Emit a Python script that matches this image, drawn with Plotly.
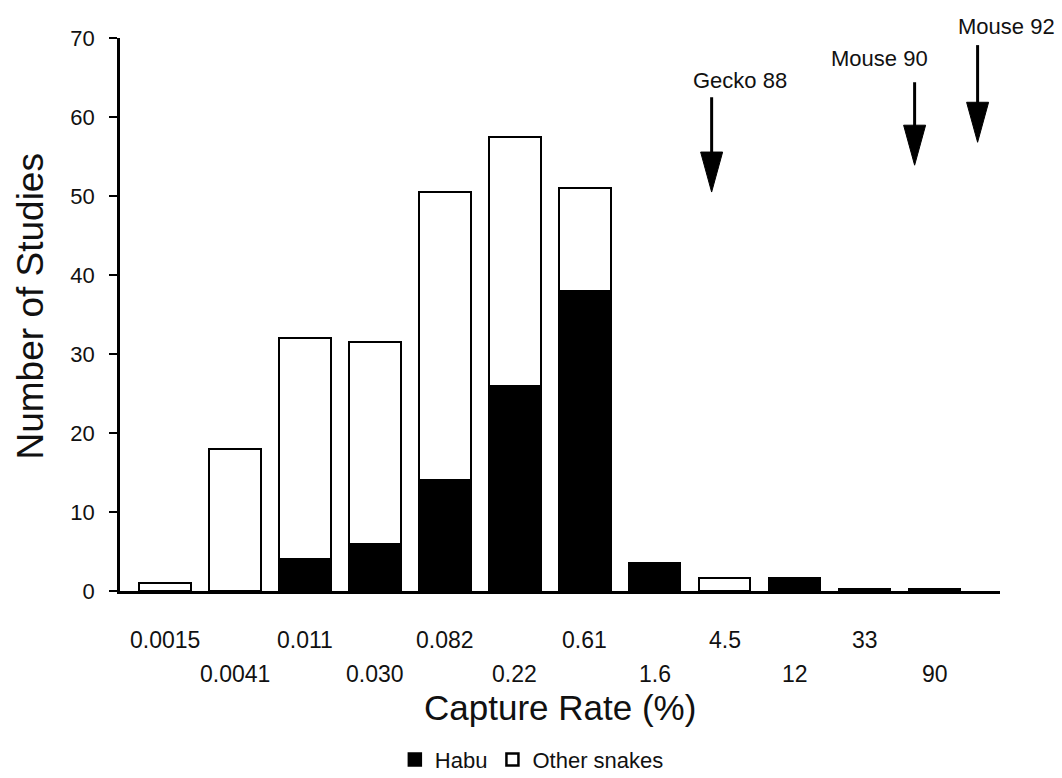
import plotly.graph_objects as go

# ---- data ----
categories = ["0.0015", "0.0041", "0.011", "0.030", "0.082", "0.22",
              "0.61", "1.6", "4.5", "12", "33", "90"]
habu = [0, 0, 4, 6, 14, 26, 38, 3.5, 0, 1.7, 0.3, 0.3]
other_snakes = [1, 18, 28, 25.5, 36.5, 31.5, 13, 0, 1.7, 0, 0, 0]
y_ticks = [0, 10, 20, 30, 40, 50, 60, 70]

arrow_labels = ["Gecko 88", "Mouse 90", "Mouse 92"]
arrow_x = [7.81, 10.71, 11.61]
arrow_tail_y = [62.5, 64.4, 69.1]
arrow_tip_y = [50.5, 53.9, 56.8]
label_dx = [28, -35, 29]     # pixel offset of label from arrow tail
label_dy = [17, 24, 19]

FONT = "Liberation Sans, Arial, Helvetica, sans-serif"
INK = "#111111"

xs = list(range(len(categories)))

fig = go.Figure()
fig.add_trace(go.Bar(
    x=xs, y=habu, name="Habu", width=0.73,
    marker=dict(color="black", line=dict(color="black", width=2.5)),
))
fig.add_trace(go.Bar(
    x=xs, y=other_snakes, name="Other snakes", width=0.73,
    marker=dict(color="white", line=dict(color="black", width=2.5)),
))

annotations = []
# staggered category labels
for i, lab in enumerate(categories):
    annotations.append(dict(
        x=i, y=0, xref="x", yref="y", text=lab, showarrow=False,
        xanchor="center", yanchor="middle",
        yshift=-49 if i % 2 == 0 else -83,
        font=dict(family=FONT, size=23, color=INK),
    ))
# axis titles
annotations.append(dict(
    x=0.5, y=0, xref="paper", yref="paper", text="Capture Rate (%)",
    showarrow=False, xanchor="center", yanchor="middle", yshift=-116,
    font=dict(family=FONT, size=35, color=INK),
))
annotations.append(dict(
    x=0, y=0.5, xref="paper", yref="paper", text="Number of Studies",
    showarrow=False, xanchor="center", yanchor="middle", xshift=-90,
    yshift=8, textangle=-90,
    font=dict(family=FONT, size=37, color=INK),
))
# arrow labels
for lab, ax_, ty, dx, dy in zip(arrow_labels, arrow_x, arrow_tail_y, label_dx, label_dy):
    annotations.append(dict(
        x=ax_, y=ty, xref="x", yref="y", text=lab, showarrow=False,
        xanchor="center", yanchor="middle", xshift=dx, yshift=dy,
        font=dict(family=FONT, size=22, color=INK),
    ))

shapes = []
for ax_, ty, tp in zip(arrow_x, arrow_tail_y, arrow_tip_y):
    shapes.append(dict(
        type="line", xref="x", yref="y", x0=ax_, x1=ax_, y0=ty, y1=tp + 2,
        line=dict(color="black", width=3),
    ))
    shapes.append(dict(
        type="path", xref="x", yref="y", xsizemode="pixel", ysizemode="pixel",
        xanchor=ax_, yanchor=tp, path="M-11,40 L11,40 L0,0 Z",
        fillcolor="black", line=dict(color="black", width=1),
    ))

fig.update_layout(
    width=1062, height=778,
    margin=dict(l=120, r=62, t=38, b=187, autoexpand=False),
    paper_bgcolor="white", plot_bgcolor="white",
    barmode="stack", bargap=0,
    font=dict(family=FONT, color=INK),
    showlegend=True,
    legend=dict(
        orientation="h", x=0.468, xanchor="center", y=-0.305,
        yanchor="middle", traceorder="normal",
        font=dict(family=FONT, size=22, color=INK),
        bgcolor="rgba(0,0,0,0)",
    ),
    xaxis=dict(
        range=[-0.643, 11.93], showticklabels=False, ticks="",
        showgrid=False, zeroline=False,
        showline=True, linecolor="black", linewidth=3,
    ),
    yaxis=dict(
        range=[0, 70], tickvals=y_ticks, ticks="outside", ticklen=8,
        tickwidth=2, tickcolor="black", ticklabelstandoff=10,
        tickfont=dict(family=FONT, size=22, color=INK),
        showgrid=False, zeroline=False,
        showline=True, linecolor="black", linewidth=2.5,
    ),
    annotations=annotations,
    shapes=shapes,
)

fig.write_html("out.html")
